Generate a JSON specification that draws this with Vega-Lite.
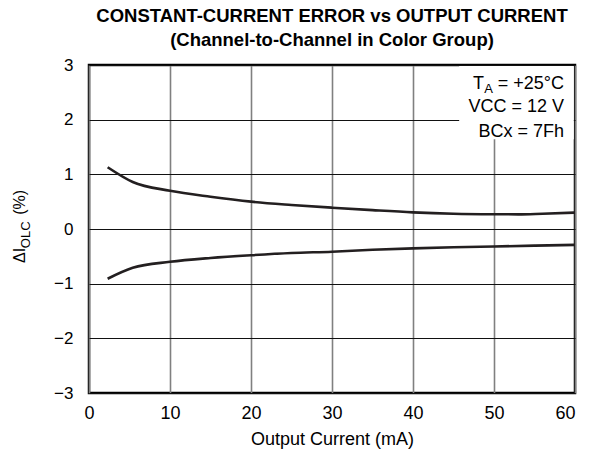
{
  "$schema": "https://vega.github.io/schema/vega-lite/v6.json",
  "width": 486,
  "height": 328,
  "autosize": {"type": "none"},
  "padding": {"left": 89, "top": 65, "right": 36, "bottom": 67},
  "background": "white",
  "config": {
    "font": "Liberation Sans",
    "view": {"stroke": "black", "strokeWidth": 2.5},
    "axis": {"labelFont": "Liberation Sans", "titleFont": "Liberation Sans", "labelColor": "black", "titleColor": "black"}
  },
  "title": {
    "text": ["CONSTANT-CURRENT ERROR vs OUTPUT CURRENT", "(Channel-to-Channel in Color Group)"],
    "font": "Liberation Sans",
    "fontSize": 18.5,
    "fontWeight": "bold",
    "color": "black",
    "anchor": "middle",
    "lineHeight": 24,
    "offset": 7
  },
  "datasets": {
    "curves": [
      {"current": 2.3, "error": 1.13, "series": "upper"},
      {"current": 5.4, "error": 0.86, "series": "upper"},
      {"current": 10, "error": 0.70, "series": "upper"},
      {"current": 15, "error": 0.59, "series": "upper"},
      {"current": 20, "error": 0.50, "series": "upper"},
      {"current": 25, "error": 0.44, "series": "upper"},
      {"current": 30, "error": 0.39, "series": "upper"},
      {"current": 35, "error": 0.345, "series": "upper"},
      {"current": 40, "error": 0.305, "series": "upper"},
      {"current": 45, "error": 0.28, "series": "upper"},
      {"current": 50, "error": 0.27, "series": "upper"},
      {"current": 53, "error": 0.268, "series": "upper"},
      {"current": 56, "error": 0.28, "series": "upper"},
      {"current": 60, "error": 0.30, "series": "upper"},
      {"current": 2.3, "error": -0.91, "series": "lower"},
      {"current": 5.4, "error": -0.71, "series": "lower"},
      {"current": 10, "error": -0.60, "series": "lower"},
      {"current": 15, "error": -0.53, "series": "lower"},
      {"current": 20, "error": -0.48, "series": "lower"},
      {"current": 25, "error": -0.44, "series": "lower"},
      {"current": 30, "error": -0.415, "series": "lower"},
      {"current": 35, "error": -0.38, "series": "lower"},
      {"current": 40, "error": -0.355, "series": "lower"},
      {"current": 45, "error": -0.335, "series": "lower"},
      {"current": 50, "error": -0.32, "series": "lower"},
      {"current": 55, "error": -0.305, "series": "lower"},
      {"current": 60, "error": -0.29, "series": "lower"}
    ],
    "box": [{"x1": 45.7, "x2": 59.85, "y1": 1.64, "y2": 2.98}],
    "notes": [
      {"x": 60, "y": 2.57, "label": " = +25°C"},
      {"x": 60, "y": 2.145, "label": "VCC = 12 V"},
      {"x": 60, "y": 1.69, "label": "BCx = 7Fh"}
    ]
  },
  "layer": [
    {
      "data": {"name": "curves"},
      "mark": {"type": "line", "color": "#231f20", "strokeWidth": 2.6, "interpolate": "monotone"},
      "encoding": {
        "x": {
          "field": "current", "type": "quantitative",
          "scale": {"domain": [0, 60], "nice": false},
          "axis": {
            "values": [0, 10, 20, 30, 40, 50, 60],
            "format": "d",
            "title": "Output Current (mA)",
            "titleFontSize": 18, "titleFontWeight": "normal", "titlePadding": 8,
            "labelFontSize": 18, "labelPadding": 11,
            "labelFlush": false,
            "labelAlign": {"condition": {"test": "datum.value == 60", "value": "right"}, "value": "center"},
            "ticks": false, "domain": false,
            "grid": true, "gridColor": "#808080", "gridWidth": 1.6, "gridOpacity": 1
          }
        },
        "y": {
          "field": "error", "type": "quantitative",
          "scale": {"domain": [-3, 3], "nice": false},
          "axis": {
            "values": [-3, -2, -1, 0, 1, 2, 3],
            "format": "d",
            "title": null,
            "labelFontSize": 17, "labelPadding": 16,
            "ticks": false, "domain": false,
            "grid": true, "gridColor": "#111111", "gridWidth": 1.2, "gridOpacity": 1
          }
        },
        "detail": {"field": "series", "type": "nominal"}
      }
    },
    {
      "data": {"name": "box"},
      "mark": {"type": "rect", "fill": "white", "stroke": null},
      "encoding": {
        "x": {"field": "x1", "type": "quantitative"},
        "x2": {"field": "x2"},
        "y": {"field": "y1", "type": "quantitative"},
        "y2": {"field": "y2"}
      }
    },
    {
      "data": {"name": "notes"},
      "mark": {"type": "text", "align": "right", "baseline": "alphabetic", "dx": -11, "fontSize": 18, "font": "Liberation Sans", "color": "black"},
      "encoding": {
        "x": {"field": "x", "type": "quantitative"},
        "y": {"field": "y", "type": "quantitative"},
        "text": {"field": "label"}
      }
    },
    {
      "data": {"values": [{"x": 60, "y": 2.57, "label": "A"}]},
      "mark": {"type": "text", "align": "right", "baseline": "alphabetic", "dx": -82, "dy": 4, "fontSize": 13, "font": "Liberation Sans", "color": "black"},
      "encoding": {
        "x": {"field": "x", "type": "quantitative"},
        "y": {"field": "y", "type": "quantitative"},
        "text": {"field": "label"}
      }
    },
    {
      "data": {"values": [{"x": 60, "y": 2.57, "label": "T"}]},
      "mark": {"type": "text", "align": "right", "baseline": "alphabetic", "dx": -91, "fontSize": 18, "font": "Liberation Sans", "color": "black"},
      "encoding": {
        "x": {"field": "x", "type": "quantitative"},
        "y": {"field": "y", "type": "quantitative"},
        "text": {"field": "label"}
      }
    },
    {
      "data": {"values": [
        {"x": -7.9, "y": -0.62, "label": "ΔI"},
        {"x": -7.9, "y": 0.26, "label": "(%)"}
      ]},
      "mark": {"type": "text", "angle": 270, "align": "left", "baseline": "alphabetic", "fontSize": 16, "font": "Liberation Sans", "color": "black"},
      "encoding": {
        "x": {"field": "x", "type": "quantitative"},
        "y": {"field": "y", "type": "quantitative"},
        "text": {"field": "label"}
      }
    },
    {
      "data": {"values": [
        {"x": -7.9, "y": -0.35, "label": "OLC"}
      ]},
      "mark": {"type": "text", "angle": 270, "align": "left", "baseline": "alphabetic", "dy": 5, "fontSize": 13, "font": "Liberation Sans", "color": "black"},
      "encoding": {
        "x": {"field": "x", "type": "quantitative"},
        "y": {"field": "y", "type": "quantitative"},
        "text": {"field": "label"}
      }
    }
  ]
}
